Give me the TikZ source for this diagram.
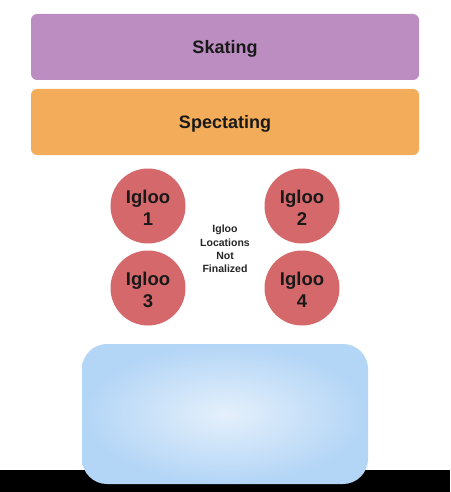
\documentclass[tikz,border=0pt]{standalone}
\usepackage{fontspec}
\setmainfont{Liberation Sans}
\usetikzlibrary{shapes.geometric}
\definecolor{skate}{HTML}{BB8DC1}
\definecolor{spect}{HTML}{F2AC5A}
\definecolor{igloo}{HTML}{D5686B}
\definecolor{iceout}{HTML}{B3D5F6}
\definecolor{icein}{HTML}{E4F0FB}
\begin{document}
\begin{tikzpicture}[x=1pt,y=-1pt,
  band/.style={fill=#1, draw=none, rounded corners=6pt, minimum width=388pt, minimum height=66pt, text depth=0pt, font=\bfseries\fontsize{18}{21}\selectfont, text=black!90},
  iglooc/.style={circle, fill=igloo, draw=none, minimum size=75pt, inner sep=0pt},
  igloot/.style={align=center, inner sep=0pt, font=\bfseries\fontsize{18.5}{22}\selectfont, text=black!90}]
\useasboundingbox (0,0) rectangle (450,492);
\fill[white] (0,0) rectangle (450,492);
\fill[black] (0,470) rectangle (450,492);
\node[band=skate] (skating) at (225,47) {Skating};
\node[band=spect] (spect) at (225,122) {Spectating};
\node[iglooc] (i1) at (148,206) {};
\node[iglooc] (i2) at (302,206) {};
\node[iglooc] (i3) at (148,288) {};
\node[iglooc] (i4) at (302,288) {};
\node[igloot] (t1) at ([yshift=-2pt]i1.center) {Igloo\\1};
\node[igloot] (t2) at ([yshift=-2pt]i2.center) {Igloo\\2};
\node[igloot] (t3) at ([yshift=-2pt]i3.center) {Igloo\\3};
\node[igloot] (t4) at ([yshift=-2pt]i4.center) {Igloo\\4};
\node[align=center, font=\bfseries\fontsize{10.5}{13.3}\selectfont, text=black!85] (note) at (225,249) {Igloo\\Locations\\Not\\Finalized};
\shade[inner color=icein, outer color=iceout, rounded corners=25pt] (82,344) rectangle (368,484);
\node[minimum width=286pt, minimum height=140pt, draw=none] (rink) at (225,414) {};
\end{tikzpicture}
\end{document}
